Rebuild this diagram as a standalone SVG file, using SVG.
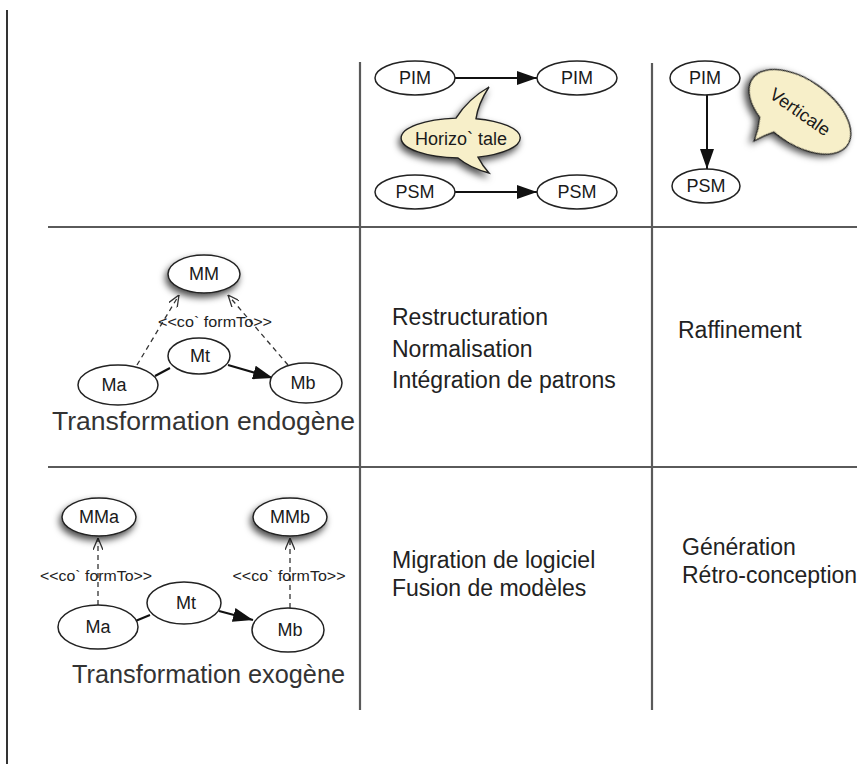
<svg xmlns="http://www.w3.org/2000/svg" width="857" height="764" viewBox="0 0 857 764">
  <style>
    .grid { stroke: #5a5a5a; stroke-width: 2.2; fill: none; }
    .node { fill: #ffffff; stroke: #222222; stroke-width: 1.5; }
    .bubble { fill: #f7efc9; stroke: #222222; stroke-width: 1.4; }
    .lbl { font-family: "Liberation Sans", Arial, sans-serif; font-size: 18px; fill: #1a1a1a; text-anchor: middle; }
    .big { font-family: "Liberation Sans", Arial, sans-serif; font-size: 26px; fill: #333333; }
    .cell { font-family: "Liberation Sans", Arial, sans-serif; font-size: 23px; fill: #222222; }
    .stereo { font-family: "Liberation Sans", Arial, sans-serif; font-size: 14px; fill: #222222; text-anchor: middle; }
    .solid { stroke: #111111; stroke-width: 2; fill: none; }
    .dash { stroke: #333333; stroke-width: 1.3; fill: none; stroke-dasharray: 5 4; }
  </style>
  <defs>
    <marker id="fill" viewBox="0 0 20 14" refX="20" refY="7" markerWidth="20" markerHeight="14" markerUnits="userSpaceOnUse" orient="auto">
      <path d="M0,0 L20,7 L0,14 Z" fill="#111111"/>
    </marker>
    <marker id="open" viewBox="0 0 12 10" refX="12" refY="5" markerWidth="12" markerHeight="10" markerUnits="userSpaceOnUse" orient="auto">
      <path d="M0,0 L12,5 L0,10" fill="none" stroke="#333333" stroke-width="1.3"/>
    </marker>
    <filter id="shadow" x="-40%" y="-40%" width="180%" height="200%">
      <feDropShadow dx="-2" dy="4" stdDeviation="3.5" flood-color="#000000" flood-opacity="0.7"/>
    </filter>
  </defs>

  <!-- frame and grid -->
  <g id="grid">
    <line x1="7" y1="10" x2="7" y2="764" stroke="#000000" stroke-width="1.6"/>
    <line class="grid" x1="360" y1="62" x2="360" y2="710"/>
    <line class="grid" x1="652" y1="63" x2="652" y2="710"/>
    <line class="grid" x1="48" y1="227" x2="857" y2="227"/>
    <line class="grid" x1="48" y1="467" x2="857" y2="467"/>
  </g>

  <!-- connectors -->
  <g id="connectors">
    <line class="solid" x1="455" y1="78" x2="537" y2="78" marker-end="url(#fill)"/>
    <line class="solid" x1="455" y1="192" x2="537" y2="192" marker-end="url(#fill)"/>
    <line class="solid" x1="707" y1="95" x2="707" y2="169" marker-end="url(#fill)"/>

    <line class="solid" x1="155" y1="376" x2="170" y2="368" stroke-width="2.4"/>
    <line class="solid" x1="228" y1="365" x2="273" y2="378" marker-end="url(#fill)"/>
    <line class="dash" x1="137" y1="365" x2="179" y2="295" marker-end="url(#open)"/>
    <line class="dash" x1="288" y1="365" x2="228" y2="295" marker-end="url(#open)"/>

    <line class="solid" x1="133" y1="622" x2="150" y2="615" stroke-width="2.4"/>
    <line class="solid" x1="219" y1="611" x2="253" y2="620" marker-end="url(#fill)"/>
    <line class="dash" x1="98" y1="605" x2="98" y2="538" marker-end="url(#open)"/>
    <line class="dash" x1="290" y1="608" x2="290" y2="538" marker-end="url(#open)"/>
  </g>

  <!-- horizontal / vertical -->
  <g id="pim-h1"><ellipse class="node" cx="415" cy="78" rx="40" ry="17"/><text class="lbl" x="415" y="84">PIM</text></g>
  <g id="pim-h2"><ellipse class="node" cx="577" cy="78" rx="40" ry="17"/><text class="lbl" x="577" y="84">PIM</text></g>
  <g id="psm-h1"><ellipse class="node" cx="415" cy="192" rx="40" ry="17"/><text class="lbl" x="415" y="198">PSM</text></g>
  <g id="psm-h2"><ellipse class="node" cx="577" cy="192" rx="40" ry="17"/><text class="lbl" x="577" y="198">PSM</text></g>

  <g id="bubble-h">
    <path class="bubble" filter="url(#shadow)" d="M476,118.7 A60,20 0 0 1 478,157.1 Q482,165 489,173 Q470,168 458,158 A60,20 0 0 1 456,118.1 Q468,99 489,87 Q478,104 476,118.7 Z"/>
    <text class="lbl" x="461" y="145" font-size="19">Horizo` tale</text>
  </g>

  <g id="pim-v"><ellipse class="node" cx="705" cy="78" rx="35" ry="17"/><text class="lbl" x="705" y="84">PIM</text></g>
  <g id="psm-v"><ellipse class="node" cx="706" cy="186" rx="34" ry="17"/><text class="lbl" x="706" y="192">PSM</text></g>

  <g id="bubble-v" transform="translate(800,112) rotate(35)">
    <path class="bubble" filter="url(#shadow)" d="M-30,27.4 A58,32 0 1 1 -10,31.5 Q-16,40 -21,50 Q-24,38 -30,27.4 Z"/>
    <text class="lbl" x="0" y="6" font-size="18">Verticale</text>
  </g>

  <!-- endogenous transformation -->
  <g id="mm"><ellipse class="node" filter="url(#shadow)" cx="204" cy="274" rx="36" ry="19"/><text class="lbl" x="204" y="280">MM</text></g>
  <g id="mt-endo"><ellipse class="node" cx="199" cy="356" rx="31" ry="18"/><text class="lbl" x="200" y="362">Mt</text></g>
  <g id="ma-endo"><ellipse class="node" cx="118" cy="385" rx="40" ry="20"/><text class="lbl" x="114" y="391">Ma</text></g>
  <g id="mb-endo"><ellipse class="node" cx="306" cy="383" rx="36" ry="20"/><text class="lbl" x="303" y="389">Mb</text></g>
  <text class="stereo" x="215" y="327" textLength="114" lengthAdjust="spacingAndGlyphs">&lt;&lt;co` formTo&gt;&gt;</text>
  <text class="big" x="52" y="430" textLength="303" lengthAdjust="spacingAndGlyphs">Transformation endogène</text>

  <!-- exogenous transformation -->
  <g id="mma"><ellipse class="node" filter="url(#shadow)" cx="99" cy="517" rx="37" ry="19"/><text class="lbl" x="99" y="523">MMa</text></g>
  <g id="mmb"><ellipse class="node" filter="url(#shadow)" cx="290" cy="517" rx="37" ry="19"/><text class="lbl" x="290" y="523">MMb</text></g>
  <g id="mt-exo"><ellipse class="node" cx="184" cy="603" rx="37" ry="21"/><text class="lbl" x="186" y="609">Mt</text></g>
  <g id="ma-exo"><ellipse class="node" cx="98" cy="627" rx="40" ry="22"/><text class="lbl" x="98" y="633">Ma</text></g>
  <g id="mb-exo"><ellipse class="node" cx="288" cy="630" rx="36" ry="22"/><text class="lbl" x="290" y="636">Mb</text></g>
  <text class="stereo" x="96" y="581" textLength="112" lengthAdjust="spacingAndGlyphs">&lt;&lt;co` formTo&gt;&gt;</text>
  <text class="stereo" x="289" y="581" textLength="113" lengthAdjust="spacingAndGlyphs">&lt;&lt;co` formTo&gt;&gt;</text>
  <text class="big" x="72" y="683" textLength="273" lengthAdjust="spacingAndGlyphs">Transformation exogène</text>

  <!-- cell texts -->
  <g id="cell-endo-h">
    <text class="cell" x="392" y="325">Restructuration</text>
    <text class="cell" x="392" y="357">Normalisation</text>
    <text class="cell" x="392" y="388">Intégration de patrons</text>
  </g>
  <g id="cell-endo-v"><text class="cell" x="678" y="338">Raffinement</text></g>
  <g id="cell-exo-h">
    <text class="cell" x="392" y="568">Migration de logiciel</text>
    <text class="cell" x="392" y="596">Fusion de modèles</text>
  </g>
  <g id="cell-exo-v">
    <text class="cell" x="682" y="555">Génération</text>
    <text class="cell" x="682" y="583">Rétro-conception</text>
  </g>
</svg>
